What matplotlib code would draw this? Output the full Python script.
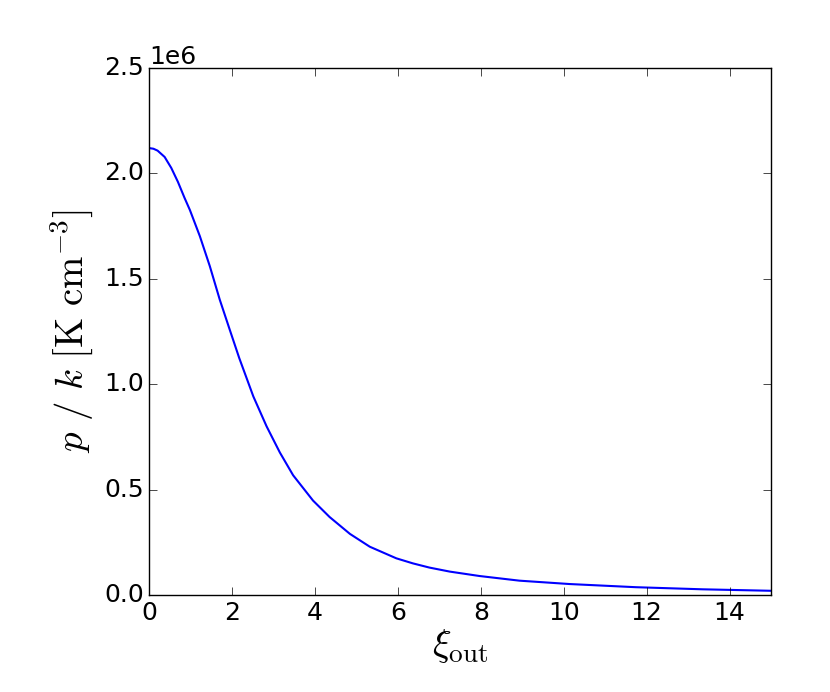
import matplotlib
matplotlib.use('Agg')
import matplotlib.pyplot as plt

# xi_out vs p/k
xi_out = [0.0, 0.1, 0.2, 0.37, 0.53, 0.69, 0.85, 0.98, 1.22, 1.46, 1.70, 1.94,
          2.17, 2.51, 2.83, 3.15, 3.47, 3.95, 4.35, 4.84, 5.32, 5.96,
          6.36, 6.76, 7.25, 7.97, 8.93, 10.14, 11.74, 13.35, 15.0]
p_over_k = [2.12e6, 2.117e6, 2.108e6, 2.078e6, 2.026e6, 1.960e6, 1.884e6, 1.826e6,
            1.702e6, 1.560e6, 1.401e6, 1.259e6, 1.124e6, 0.942e6, 0.800e6,
            0.676e6, 0.568e6, 0.448e6, 0.370e6, 0.290e6, 0.229e6,
            0.174e6, 0.150e6, 0.130e6, 0.111e6, 0.090e6, 0.068e6, 0.052e6,
            0.037e6, 0.027e6, 0.020e6]

plt.style.use('classic')
plt.rcParams['mathtext.fontset'] = 'cm'
plt.rcParams['font.family'] = ['DejaVu Sans']

fig = plt.figure(figsize=(8.3, 6.92), dpi=100, facecolor='white')
ax = fig.add_axes([149.3 / 830, 97 / 692, (771 - 149.3) / 830, (595 - 68) / 692])

ax.plot(xi_out, p_over_k, color='b', lw=1.5)
ax.set_xlim(0, 15)
ax.set_ylim(0, 2.5e6)
ax.set_xticks([0, 2, 4, 6, 8, 10, 12, 14])
ax.ticklabel_format(axis='y', style='sci', scilimits=(0, 0))
ax.tick_params(labelsize=18, length=6, direction='in', top=True, right=True)
ax.yaxis.get_offset_text().set_fontsize(18)

ax.set_xlabel(r'$\xi_{\rm out}$', fontsize=28, labelpad=2)
ax.set_ylabel(r'$p\ /\ k\ [{\rm K\ cm^{-3}}]$', fontsize=28, labelpad=6)

fig.savefig('out.png', dpi=100, facecolor='white')
